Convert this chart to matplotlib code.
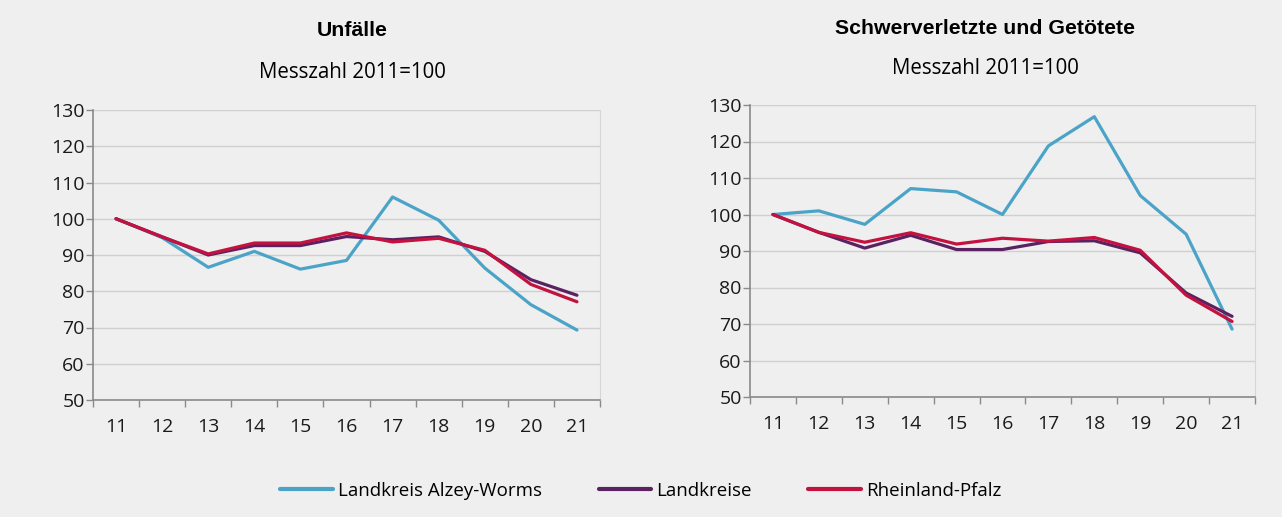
import matplotlib
matplotlib.use("Agg")
import matplotlib.pyplot as plt

# Jahre (2011 bis 2021) und Messzahlen, 2011 = 100
years = ["11", "12", "13", "14", "15", "16", "17", "18", "19", "20", "21"]

# Unfälle
unf_alzey = [100, 94.8, 86.6, 91.0, 86.1, 88.5, 106.0, 99.6, 86.4, 76.3, 69.3]
unf_lk = [100, 95.0, 90.0, 92.6, 92.6, 95.1, 94.2, 95.0, 91.0, 83.2, 78.9]
unf_rlp = [100, 95.0, 90.3, 93.3, 93.3, 96.1, 93.6, 94.6, 91.3, 81.9, 77.1]

# Schwerverletzte und Getötete
sv_alzey = [100, 101.0, 97.3, 107.1, 106.2, 100.0, 118.8, 126.8, 105.2, 94.6, 68.6]
sv_lk = [100, 95.1, 90.8, 94.3, 90.4, 90.4, 92.6, 92.8, 89.5, 78.5, 72.1]
sv_rlp = [100, 95.1, 92.4, 95.0, 91.9, 93.5, 92.7, 93.7, 90.2, 77.9, 70.7]

labels = ["Landkreis Alzey-Worms", "Landkreise", "Rheinland-Pfalz"]
colors = ["#4ba3c8", "#5b2262", "#c3123f"]
bg = "#eeefee"

fig = plt.figure(figsize=(12.82, 5.17), dpi=100, facecolor=bg)

ax1 = fig.add_axes([93 / 1282, 117 / 517, 507 / 1282, 290 / 517])
ax2 = fig.add_axes([750 / 1282, 120 / 517, 505 / 1282, 292 / 517])

panels = [
    (ax1, "Unfälle", [unf_alzey, unf_lk, unf_rlp]),
    (ax2, "Schwerverletzte und Getötete", [sv_alzey, sv_lk, sv_rlp]),
]

handles = []
for ax, title, series in panels:
    ax.set_facecolor(bg)
    x = range(len(years))
    for vals, lab, c in zip(series, labels, colors):
        ln, = ax.plot(x, vals, color=c, lw=2.3, label=lab, solid_capstyle="round")
        if ax is ax1:
            handles.append(ln)
    ax.set_ylim(50, 130)
    ax.set_yticks(range(50, 131, 10))
    ax.set_xlim(-0.5, len(years) - 0.5)
    ax.set_xticks(range(len(years)))
    ax.set_xticklabels(years)
    ax.set_xticks([i - 0.5 for i in range(len(years) + 1)], minor=True)
    ax.tick_params(axis="x", which="major", length=0, pad=13)
    ax.tick_params(axis="x", which="minor", length=5, color="#8a8a8a", width=1)
    ax.tick_params(axis="y", length=5, color="#8a8a8a", width=1, pad=1)
    for lbl in ax.get_xticklabels() + ax.get_yticklabels():
        lbl.set_fontfamily("Open Sans")
        lbl.set_fontsize(14)
        lbl.set_color("#1a1a1a")
    ax.grid(axis="y", color="#d0d0d0", lw=1)
    ax.set_axisbelow(True)
    ax.spines["top"].set_visible(False)
    ax.spines["right"].set_color("#d6d6d6")
    ax.spines["left"].set_color("#8a8a8a")
    ax.spines["bottom"].set_color("#8a8a8a")
    for s in ["left", "bottom"]:
        ax.spines[s].set_linewidth(1.2)

fig.text(352 / 1282, 1 - 30 / 517, "Unfälle", ha="center", va="center",
         fontfamily="Liberation Sans", fontweight="bold", fontsize=15.3)
fig.text(352 / 1282, 1 - 72 / 517, "Messzahl 2011=100", ha="center", va="center",
         fontfamily="Open Sans", fontsize=14.8)
fig.text(985 / 1282, 1 - 28 / 517, "Schwerverletzte und Getötete", ha="center", va="center",
         fontfamily="Liberation Sans", fontweight="bold", fontsize=15.3)
fig.text(985 / 1282, 1 - 68 / 517, "Messzahl 2011=100", ha="center", va="center",
         fontfamily="Open Sans", fontsize=14.8)

leg = fig.legend(handles, labels, loc="center", bbox_to_anchor=(641 / 1282, 1 - 491 / 517),
                 ncol=3, frameon=False, handlelength=2.8, handletextpad=0.3,
                 columnspacing=3.0, prop={"family": "Open Sans", "size": 13.5})
for h in leg.get_lines():
    h.set_linewidth(3)

fig.savefig("out.png", dpi=100, facecolor=bg)
